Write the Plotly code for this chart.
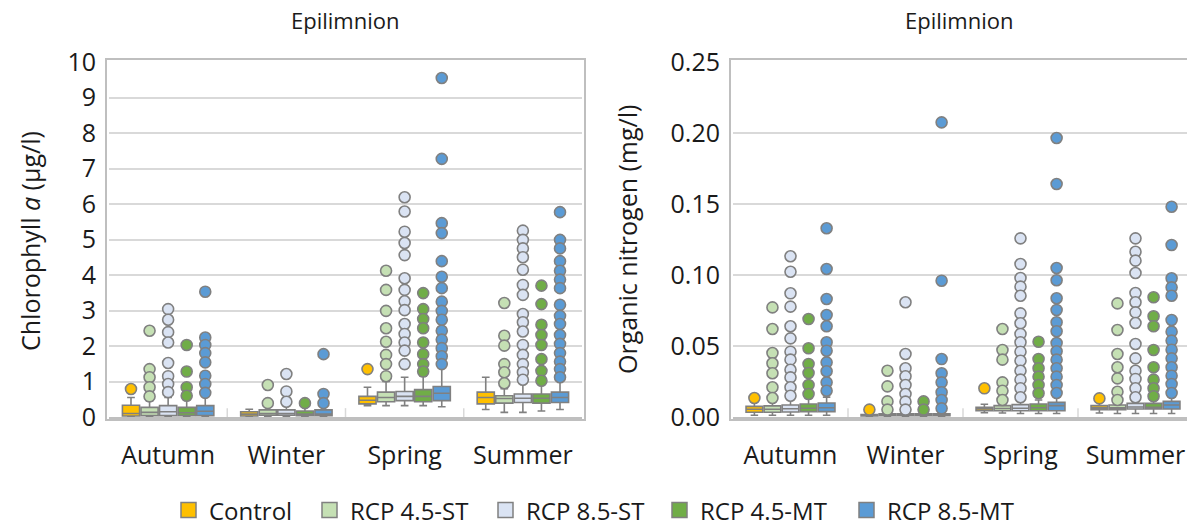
import plotly.graph_objects as go

W, H = 1187, 528

seasons = ["Autumn", "Winter", "Spring", "Summer"]
scenarios = ["Control", "RCP 4.5-ST", "RCP 8.5-ST", "RCP 4.5-MT", "RCP 8.5-MT"]
colors = ["#FFC000", "#C5E0B4", "#DAE3F3", "#70AD47", "#5B9BD5"]

# ---------------- Chlorophyll a (left) ----------------
chl_q1 = [[0.03, 0.03, 0.37, 0.37], [0.04, 0.05, 0.43, 0.39], [0.04, 0.05, 0.46, 0.41],
          [0.04, 0.04, 0.43, 0.39], [0.04, 0.04, 0.46, 0.41]]
chl_med = [[0.10, 0.08, 0.47, 0.55], [0.13, 0.10, 0.55, 0.52], [0.15, 0.10, 0.58, 0.53],
           [0.12, 0.08, 0.58, 0.53], [0.16, 0.08, 0.67, 0.55]]
chl_q3 = [[0.33, 0.15, 0.58, 0.70], [0.27, 0.20, 0.70, 0.60], [0.32, 0.20, 0.72, 0.65],
          [0.27, 0.17, 0.77, 0.65], [0.32, 0.20, 0.86, 0.70]]
chl_lo = [[0.0, 0.01, 0.32, 0.21], [0.0, 0.01, 0.32, 0.13], [0.0, 0.01, 0.32, 0.13],
          [0.0, 0.01, 0.32, 0.17], [0.0, 0.01, 0.29, 0.21]]
chl_hi = [[0.55, 0.22, 0.84, 1.12], [0.45, 0.30, 1.00, 0.80], [0.55, 0.32, 1.12, 0.95],
          [0.48, 0.30, 1.15, 0.92], [0.58, 0.32, 1.40, 1.05]]
chl_out = [
    [[0.79], [], [1.35], []],
    [[2.43, 1.35, 1.12, 0.84, 0.58], [0.90, 0.39],
     [4.12, 3.58, 2.99, 2.50, 2.12, 1.75, 1.49, 1.15],
     [3.21, 2.29, 2.01, 1.49, 1.26, 0.95]],
    [[3.04, 2.74, 2.39, 2.10, 1.52, 1.15, 0.93, 0.70], [1.21, 0.72, 0.43],
     [6.19, 5.79, 5.22, 4.90, 4.56, 3.91, 3.58, 3.26, 3.01, 2.62, 2.34, 2.10, 1.87, 1.49],
     [5.25, 4.99, 4.75, 4.50, 4.15, 3.72, 3.44, 2.90, 2.67, 2.41, 2.03, 1.75, 1.49, 1.26, 1.05]],
    [[2.03, 1.28, 0.84, 0.60], [0.39],
     [3.49, 3.04, 2.76, 2.50, 2.10, 1.77, 1.49, 1.28],
     [3.70, 3.18, 2.60, 2.31, 2.03, 1.63, 1.30, 1.02]],
    [[3.53, 2.24, 2.03, 1.80, 1.54, 1.16, 0.93, 0.68], [1.77, 0.65, 0.39],
     [9.55, 7.27, 5.46, 5.18, 4.39, 3.95, 3.63, 3.25, 2.99, 2.74, 2.43, 2.18, 1.94, 1.71, 1.49],
     [5.77, 4.99, 4.75, 4.39, 4.12, 3.87, 3.63, 3.16, 2.85, 2.62, 2.31, 2.06, 1.80, 1.56, 1.35, 1.12]],
]
chl_ticks = [0, 1, 2, 3, 4, 5, 6, 7, 8, 9, 10]

# ---------------- Organic nitrogen (right) ----------------
on_q1 = [[0.0033, 0.0008, 0.0044, 0.0052], [0.0033, 0.0010, 0.0044, 0.0052], [0.0035, 0.0010, 0.0044, 0.0056],
         [0.0038, 0.0010, 0.0044, 0.0056], [0.0038, 0.0010, 0.0044, 0.0056]]
on_med = [[0.0055, 0.0012, 0.0056, 0.0064], [0.0055, 0.0015, 0.0060, 0.0064], [0.0058, 0.0015, 0.0062, 0.0070],
          [0.0062, 0.0015, 0.0065, 0.0068], [0.0065, 0.0015, 0.0080, 0.0085]]
on_q3 = [[0.0075, 0.0018, 0.0068, 0.0080], [0.0078, 0.0022, 0.0080, 0.0085], [0.0085, 0.0022, 0.0087, 0.0096],
         [0.0092, 0.0022, 0.0092, 0.0096], [0.0099, 0.0022, 0.0103, 0.0110]]
on_lo = [[0.0012, 0.0003, 0.0030, 0.0028], [0.0012, 0.0003, 0.0028, 0.0025], [0.0012, 0.0003, 0.0025, 0.0025],
         [0.0012, 0.0003, 0.0025, 0.0025], [0.0012, 0.0003, 0.0025, 0.0025]]
on_hi = [[0.0105, 0.0025, 0.0090, 0.0105], [0.0110, 0.0030, 0.0100, 0.0105], [0.0120, 0.0030, 0.0110, 0.0110],
         [0.0130, 0.0030, 0.0120, 0.0120], [0.0140, 0.0040, 0.0140, 0.0140]]
on_out = [
    [[0.0134], [0.0052], [0.0202], [0.0131]],
    [[0.0772, 0.0620, 0.0451, 0.0378, 0.0308, 0.0209, 0.0134], [0.0326, 0.0216, 0.0110, 0.0052],
     [0.0620, 0.0472, 0.0404, 0.0244, 0.0185, 0.0120],
     [0.0800, 0.0613, 0.0444, 0.0350, 0.0272, 0.0178, 0.0120]],
    [[0.1132, 0.1023, 0.0871, 0.0777, 0.0639, 0.0554, 0.0460, 0.0404, 0.0333, 0.0279, 0.0209, 0.0150],
     [0.0808, 0.0444, 0.0343, 0.0287, 0.0225, 0.0162, 0.0108, 0.0052],
     [0.1258, 0.1077, 0.0979, 0.0918, 0.0854, 0.0730, 0.0660, 0.0585, 0.0526, 0.0460, 0.0396, 0.0326, 0.0263, 0.0202, 0.0139],
     [0.1258, 0.1164, 0.1101, 0.1014, 0.0873, 0.0808, 0.0737, 0.0662, 0.0514, 0.0413, 0.0326, 0.0268, 0.0202, 0.0139]],
    [[0.0690, 0.0484, 0.0373, 0.0310, 0.0225, 0.0162], [0.0110, 0.0052],
     [0.0530, 0.0408, 0.0343, 0.0284, 0.0225, 0.0167],
     [0.0843, 0.0709, 0.0639, 0.0472, 0.0350, 0.0263, 0.0202, 0.0146]],
    [[0.1329, 0.1042, 0.0831, 0.0718, 0.0639, 0.0526, 0.0467, 0.0385, 0.0322, 0.0244, 0.0185],
     [0.2075, 0.0960, 0.0408, 0.0308, 0.0244, 0.0174, 0.0120, 0.0061],
     [0.1965, 0.1641, 0.1049, 0.0963, 0.0836, 0.0754, 0.0667, 0.0604, 0.0521, 0.0463, 0.0404, 0.0343, 0.0284, 0.0225, 0.0169],
     [0.1481, 0.1211, 0.0977, 0.0913, 0.0854, 0.0683, 0.0601, 0.0538, 0.0474, 0.0413, 0.0350, 0.0291, 0.0232, 0.0169]],
]
on_ticks = [0.00, 0.05, 0.10, 0.15, 0.20, 0.25]

# ---------------- styling ----------------
FONT = "Open Sans"
TXT = "#1a1a1a"
EDGE = "#808080"
GRID = "#D9D9D9"
FRAME = "#BFBFBF"
STEP = 0.157     # spacing between boxes within a season (category units)
BOXW = 0.145

fig = go.Figure()


def add_panel(xa, ya, q1, med, q3, lo, hi, out):
    for j in range(len(scenarios)):
        off = (j - 2) * STEP
        xs = [i + off for i in range(len(seasons))]
        fig.add_trace(go.Box(
            x=xs, q1=q1[j], median=med[j], q3=q3[j], lowerfence=lo[j], upperfence=hi[j],
            width=BOXW, whiskerwidth=0.45, fillcolor=colors[j],
            line=dict(color=EDGE, width=1.6), boxpoints=False,
            xaxis=xa, yaxis=ya, showlegend=False, hoverinfo="skip", name=scenarios[j]))
        px, py = [], []
        for i in range(len(seasons)):
            for v in out[j][i]:
                px.append(i + off)
                py.append(v)
        fig.add_trace(go.Scatter(
            x=px, y=py, mode="markers", cliponaxis=False,
            marker=dict(symbol="circle", size=11, color=colors[j], line=dict(color=EDGE, width=1.6)),
            xaxis=xa, yaxis=ya, showlegend=False, hoverinfo="skip", name=scenarios[j]))


add_panel("x", "y", chl_q1, chl_med, chl_q3, chl_lo, chl_hi, chl_out)
add_panel("x2", "y2", on_q1, on_med, on_q3, on_lo, on_hi, on_out)


def px_x(p):
    return p / W


def px_y(p):
    return 1 - p / H


# plot-area pixel geometry
L_X0, L_X1 = 109, 582
R_X0, R_X1 = 733, 1187
Y_TOP, Y_BOT = 62, 417
R_CAT = 115.0

tickfont = dict(family=FONT, size=25, color=TXT)

common_x = dict(tickvals=list(range(len(seasons))), ticktext=seasons, showgrid=False, zeroline=False,
                showline=True, linecolor=FRAME, linewidth=1.5, ticks="", tickfont=tickfont,
                ticklabelstandoff=15, automargin=False)
common_y = dict(showgrid=True, gridcolor=GRID, gridwidth=1.5, zeroline=False, showline=False,
                ticks="", tickfont=tickfont, ticklabelstandoff=12, automargin=False)

fig.update_layout(
    width=W, height=H, margin=dict(l=0, r=0, t=0, b=0, autoexpand=False),
    paper_bgcolor="white", plot_bgcolor="white", boxmode="overlay",
    font=dict(family=FONT, color=TXT),
    xaxis=dict(domain=[px_x(L_X0), px_x(L_X1)], range=[-0.5, 3.5], anchor="y", **common_x),
    yaxis=dict(domain=[px_y(Y_BOT), px_y(Y_TOP)], range=[0, 10], tickvals=chl_ticks, anchor="x", **common_y),
    xaxis2=dict(domain=[px_x(R_X0), px_x(R_X1)], range=[-0.5, -0.5 + (R_X1 - R_X0) / R_CAT], anchor="y2", **common_x),
    yaxis2=dict(domain=[px_y(Y_BOT), px_y(Y_TOP)], range=[0, 0.25], tickvals=on_ticks, tickformat=".2f",
                anchor="x2", **common_y),
    showlegend=False,
)

shapes = []
# frames
shapes.append(dict(type="rect", xref="paper", yref="paper", x0=px_x(106), x1=px_x(585),
                   y0=px_y(420), y1=px_y(59), line=dict(color=FRAME, width=2), layer="above"))
shapes.append(dict(type="rect", xref="paper", yref="paper", x0=px_x(730), x1=px_x(1190),
                   y0=px_y(420), y1=px_y(59), line=dict(color=FRAME, width=2), layer="above"))
# category separators
for xa, ya in (("x", "y domain"), ("x2", "y2 domain")):
    for i in range(len(seasons) - 1):
        shapes.append(dict(type="line", xref=xa, yref=ya, x0=i + 0.5, x1=i + 0.5, y0=0, y1=0.025,
                           line=dict(color=GRID, width=1.5)))

annotations = []
# legend (drawn as swatches + text)
LEG_Y = 510
LEG_SQ = 15
leg_left = [181, 322, 498, 672, 859]
for j, name in enumerate(scenarios):
    x0 = leg_left[j]
    shapes.append(dict(type="rect", xref="paper", yref="paper",
                       x0=px_x(x0), x1=px_x(x0 + LEG_SQ),
                       y0=px_y(LEG_Y + LEG_SQ / 2), y1=px_y(LEG_Y - LEG_SQ / 2),
                       fillcolor=colors[j], line=dict(color=EDGE, width=1.5)))
    annotations.append(dict(text=name, x=px_x(x0 + LEG_SQ + 12), y=px_y(LEG_Y), xref="paper",
                            yref="paper", showarrow=False, xanchor="left", yanchor="middle",
                            borderpad=0, font=dict(family=FONT, size=24, color=TXT)))
fig.update_layout(shapes=shapes)

for text, xp in (("Epilimnion", 345), ("Epilimnion", 959)):
    annotations.append(dict(text=text, x=px_x(xp), y=px_y(20), xref="paper", yref="paper",
                            showarrow=False, xanchor="center", yanchor="middle",
                            font=dict(family=FONT, size=22, color=TXT)))
annotations.append(dict(text="Chlorophyll <i>a</i> (µg/l)", x=px_x(30), y=px_y(241), xref="paper",
                        yref="paper", showarrow=False, textangle=-90, xanchor="center", yanchor="middle",
                        font=dict(family=FONT, size=25, color=TXT)))
annotations.append(dict(text="Organic nitrogen (mg/l)", x=px_x(627), y=px_y(240), xref="paper",
                        yref="paper", showarrow=False, textangle=-90, xanchor="center", yanchor="middle",
                        font=dict(family=FONT, size=25, color=TXT)))
fig.update_layout(annotations=annotations)

fig.write_html("out.html")
